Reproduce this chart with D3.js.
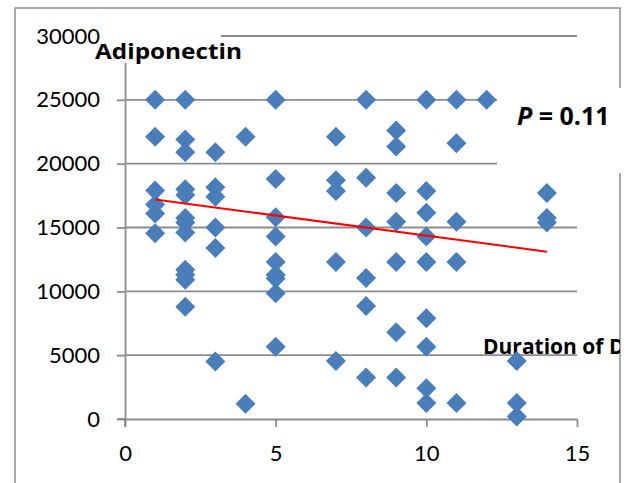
<!DOCTYPE html>
<html><head><meta charset="utf-8">
<script src="https://cdn.jsdelivr.net/npm/d3@7"></script>
<style>body{margin:0;background:#fff}</style>
</head><body>
<svg id="c" width="627" height="483"></svg>
<script>
// Duration (years) and adiponectin values
const duration = [
  1,1,1,1,1,1,
  2,2,2,2,2,2,2,2,2,2,2,2,
  3,3,3,3,3,3,
  4,4,
  5,5,5,5,5,5,5,5,5,
  7,7,7,7,7,
  8,8,8,8,8,8,
  9,9,9,9,9,9,9,
  10,10,10,10,10,10,10,10,10,
  11,11,11,11,11,
  12,
  13,13,13,
  14,14,14
];
const adiponectin = [
  25000,22100,17900,16800,16100,14550,
  25000,21900,20900,18000,17550,15750,15400,14600,11700,11300,10900,8800,
  20900,18150,17400,15000,13400,4500,
  22100,1200,
  25000,18800,15800,14300,12300,11300,11000,9850,5650,
  22100,18700,17850,12300,4550,
  25000,18900,15000,11050,8850,3250,
  22600,21350,17700,15450,12300,6800,3250,
  25000,17850,16150,14300,12300,7900,5650,2400,1250,
  25000,21600,15450,12300,1250,
  25000,
  4550,1250,200,
  17700,15750,15400
];
const yTicks = [0,5000,10000,15000,20000,25000,30000];
const xTicks = [0,5,10,15];
const trendX = [1,14];
const trendY = [17200,13100];
const titleText = "Adiponectin";
const xLabelText = "Duration of Diabetes";
const pValue = "0.11";

const svg = d3.select("#c");
const x = d3.scaleLinear().domain([0,15]).range([125,577]);
const y = d3.scaleLinear().domain([0,30000]).range([419,36]);
const grid = "#8c8c8c";
const font = "Lato, 'Open Sans', sans-serif";
const bfont = "'Open Sans', Lato, sans-serif";

svg.append("defs").append("clipPath").attr("id","chartclip")
  .append("rect").attr("x",15).attr("y",8).attr("width",605).attr("height",480);

// outer border
svg.append("rect").attr("x",15).attr("y",8).attr("width",605).attr("height",500)
  .attr("fill","#fff").attr("stroke",grid).attr("stroke-width",1.5);

// gridlines
svg.append("g").selectAll("line").data(yTicks.filter(d=>d>0)).join("line")
  .attr("x1",x(0)).attr("x2",x(15)).attr("y1",d=>y(d)).attr("y2",d=>y(d))
  .attr("stroke",grid).attr("stroke-width",1.8);

// axes
const ya = svg.append("g").attr("transform",`translate(${x(0)},0)`)
  .call(d3.axisLeft(y).tickValues(yTicks).tickSize(8).tickSizeOuter(0).tickPadding(17).tickFormat(d=>d));
const xa = svg.append("g").attr("transform",`translate(0,${y(0)})`)
  .call(d3.axisBottom(x).tickValues(xTicks).tickSize(8).tickSizeOuter(0).tickPadding(18).tickFormat(d=>d));
[ya,xa].forEach(a=>{
  a.selectAll("path,line").attr("stroke",grid).attr("stroke-width",1.8);
  a.selectAll("text").attr("font-family",font).attr("font-size",22).attr("fill","#000");
});
svg.append("line").attr("x1",x(0)).attr("x2",x(0)).attr("y1",y(0)).attr("y2",y(0)+8)
  .attr("stroke",grid).attr("stroke-width",1.8);
svg.append("line").attr("x1",x(0)-8).attr("x2",x(0)).attr("y1",y(0)).attr("y2",y(0))
  .attr("stroke",grid).attr("stroke-width",1.8);

// title box
svg.append("rect").attr("x",104).attr("y",26).attr("width",117).attr("height",37).attr("fill","#fff");
svg.append("text").attr("x",95).attr("y",59).attr("font-family",bfont).attr("font-weight","bold")
  .attr("font-size",22).attr("textLength",147).attr("lengthAdjust","spacingAndGlyphs")
  .attr("fill","#000").text(titleText);

// x label (clipped by chart area, as in the original)
svg.append("text").attr("clip-path","url(#chartclip)").attr("x",483).attr("y",354)
  .attr("font-family",bfont).attr("font-weight","bold").attr("font-size",21).attr("fill","#000").text(xLabelText);

// P box
svg.append("rect").attr("x",497).attr("y",88).attr("width",130).attr("height",85).attr("fill","#fff");
const pt = svg.append("text").attr("x",517).attr("y",125).attr("font-family",bfont)
  .attr("font-weight","bold").attr("font-size",25).attr("fill","#000");
pt.append("tspan").attr("font-style","italic").text("P");
pt.append("tspan").text(" = " + pValue);

// points
const pts = duration.map((d,i)=>({d, v: adiponectin[i]}));
svg.append("g").selectAll("path").data(pts).join("path")
  .attr("transform",p=>`translate(${x(p.d)},${y(p.v)})`)
  .attr("d","M0,-10L10,0L0,10L-10,0Z")
  .attr("fill","#4a7ebb");

// trendline
svg.append("line").attr("x1",x(trendX[0])).attr("y1",y(trendY[0]))
  .attr("x2",x(trendX[1])).attr("y2",y(trendY[1]))
  .attr("stroke","#ff0000").attr("stroke-width",2);
</script>
</body></html>
